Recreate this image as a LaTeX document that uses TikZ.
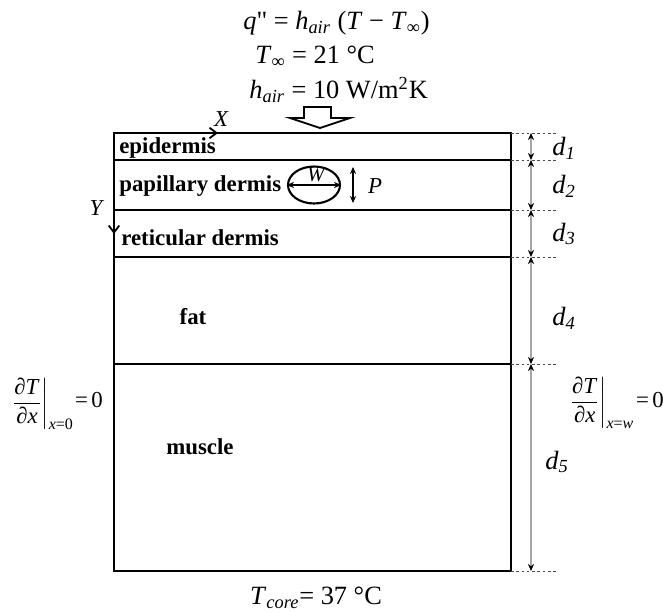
\documentclass[tikz,border=0pt]{standalone}
\usepackage{amsmath}
\usepackage{fontspec}
\setmainfont{Liberation Serif}
\usepackage{tikz}
\usetikzlibrary{arrows.meta, positioning, shapes.geometric}

\begin{document}
\begin{tikzpicture}[x=0.02cm, y=-0.02cm,
    layer/.style={font=\fontsize{13}{15}\selectfont\bfseries, inner sep=0pt},
    eq/.style={font=\fontsize{15}{17}\selectfont, inner sep=0pt},
    bc/.style={font=\fontsize{13}{15}\selectfont, inner sep=0pt},
    dimlbl/.style={font=\fontsize{15}{17}\selectfont\itshape, inner sep=0pt},
    dim/.style={{Stealth[length=4pt,width=3.5pt,black]}-{Stealth[length=4pt,width=3.5pt,black]}, gray!70, line width=0.8pt},
    ext/.style={gray!60!black, line width=0.5pt, dash pattern=on 1.5pt off 1.5pt},
    axis/.style={-{Straight Barb[length=4pt,width=6pt]}, line width=1pt},
    thin/.style={line width=0.8pt},
    thick/.style={line width=1.2pt},
    dbl/.style={{Stealth[length=4pt,width=3.5pt]}-{Stealth[length=4pt,width=3.5pt]}, line width=0.8pt}]

    \useasboundingbox (0,0) rectangle (663,612);

    % boundary condition on top
    \node[eq, anchor=west] (flux) at (243,23) {\textit{q}\textquotedbl{} = \textit{h}\textsubscript{\textit{air}} (\textit{T} − \textit{T}\textsubscript{∞})};
    \node[eq, anchor=west] (tinf) at (255,57) {\textit{T}\textsubscript{∞} = 21 °C};
    \node[eq, anchor=west] (hair) at (249,90) {\textit{h}\textsubscript{\textit{air}} = 10 W/m\textsuperscript{2}K};
    \draw[line width=1pt, fill=white] (304,107) -- (331,107) -- (331,118) -- (350,118)
        -- (320,128) -- (290,118) -- (304,118) -- cycle;

    % layers
    \draw[thick] (114,133) rectangle (511,571);
    \draw[thin] (114,160) -- (511,160);
    \draw[thick] (114,210) -- (511,210);
    \draw[thin] (114,257) -- (511,257);
    \draw[thick] (114,364) -- (511,364);

    \node[layer, anchor=west] (epi) at (119,148) {epidermis};
    \node[layer, anchor=west] (pap) at (119,186) {papillary dermis};
    \node[layer, anchor=west] (ret) at (121,238) {reticular dermis};
    \node[layer] (fat) at (193,317) {fat};
    \node[layer] (mus) at (200,447) {muscle};

    % axes
    \coordinate (origin) at (114,133);
    \coordinate (xend) at (218,133);
    \coordinate (yend) at (114,234);
    \draw[axis] (origin) -- (xend);
    \draw[axis] (origin) -- (yend);
    \node[bc, font=\fontsize{13}{15}\selectfont\itshape] (xlbl) at (221,119) {X};
    \node[bc, font=\fontsize{13}{15}\selectfont\itshape] (ylbl) at (96,208) {Y};

    % papilla
    \node[draw, ellipse, line width=1.2pt, minimum width=1.04cm, minimum height=0.74cm] (vessel) at (314,185) {};
    \draw[dbl] (vessel.west) -- (vessel.east);
    \node[bc, font=\fontsize{12}{14}\selectfont\itshape] (wlbl) at (316,175) {W};
    \coordinate (ptop) at (353,167);
    \coordinate (pbot) at (353,203);
    \draw[dbl] (ptop) -- (pbot);
    \node[bc, font=\fontsize{13}{15}\selectfont\itshape] (plbl) at (375,186) {P};

    % thicknesses
    \foreach \yy [count=\i from 0] in {133,160,210,257,364,571} {
        \coordinate (b\i) at (531,\yy);
        \draw[ext] (511,\yy) -- (557,\yy);
    }
    \foreach \i/\j in {0/1,1/2,2/3,3/4,4/5}
        \draw[dim] (b\i) -- (b\j);
    \node[dimlbl] (d1) at (564,148) {d\textsubscript{1}};
    \node[dimlbl] (d2) at (564,186) {d\textsubscript{2}};
    \node[dimlbl] (d3) at (564,234) {d\textsubscript{3}};
    \node[dimlbl] (d4) at (564,318) {d\textsubscript{4}};
    \node[dimlbl] (d5) at (557,462) {d\textsubscript{5}};

    % side and bottom conditions
    \node[bc] (bcl) at (42,404) {$\left.\dfrac{\text{\textit{∂T}}}{\text{\textit{∂x}}}\right|_{\text{\textit{x}=0}}$};
    \node[bc] (bcleq) at (89,400) {=\hspace{2pt}0};
    \node[bc] (bcr) at (601,403) {$\left.\dfrac{\text{\textit{∂T}}}{\text{\textit{∂x}}}\right|_{\text{\textit{x}=\textit{w}}}$};
    \node[bc] (bcreq) at (650,400) {=\hspace{2pt}0};
    \node[eq] (tcore) at (316,598) {\textit{T}\textsubscript{\textit{core}}= 37 °C};
\end{tikzpicture}
\end{document}
